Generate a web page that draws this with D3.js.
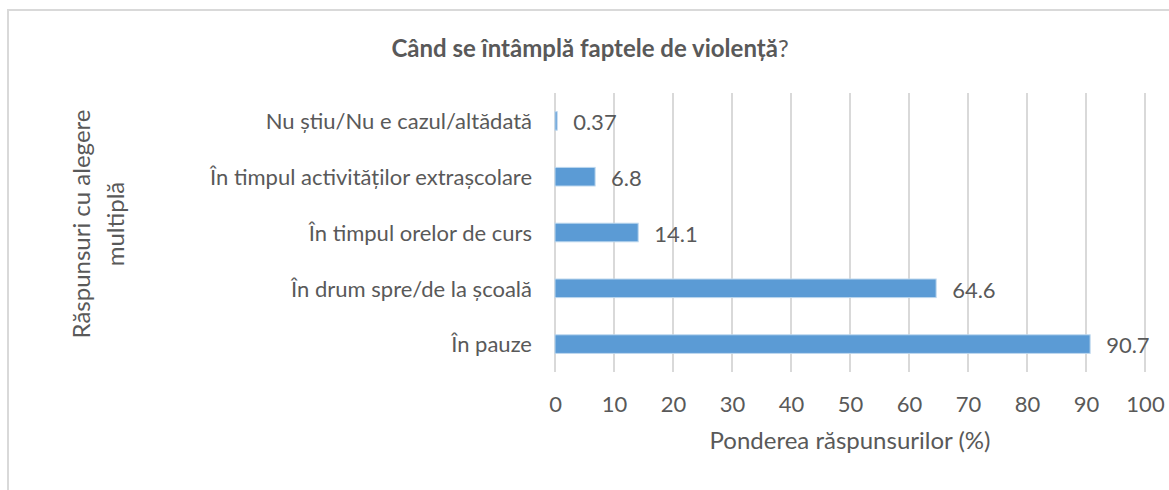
<!DOCTYPE html>
<html>
<head>
<meta charset="utf-8">
<script src="https://cdn.jsdelivr.net/npm/d3@7"></script>
<style>
  body { margin: 0; background: #fff; }
  text { font-family: Lato, "Open Sans", sans-serif; fill: #595959; }
</style>
</head>
<body>
<div id="chart"></div>
<script>
// date
var categories = ["Nu știu/Nu e cazul/altădată", "În timpul activităților extrașcolare", "În timpul orelor de curs", "În drum spre/de la școală", "În pauze"];
var values = [0.37, 6.8, 14.1, 64.6, 90.7];
var ticks = [0, 10, 20, 30, 40, 50, 60, 70, 80, 90, 100];
var title = "Când se întâmplă faptele de violență";
var xTitle = "Ponderea răspunsurilor (%)";
var yTitle = ["Răspunsuri cu alegere", "multiplă"];

var width = 1169, height = 490;
var pLeft = 555, pRight = 1145, pTop = 93, pBottom = 372;

var svg = d3.select("#chart")
  .append("svg")
  .attr("width", width)
  .attr("height", height);

// chenar
svg.append("rect")
  .attr("x", 8)
  .attr("y", 10)
  .attr("width", 1170)
  .attr("height", 490)
  .attr("fill", "white")
  .attr("stroke", "#D9D9D9")
  .attr("stroke-width", 2);

var x = d3.scaleLinear().domain([0, 100]).range([pLeft, pRight]);
var y = d3.scaleBand().domain(categories).range([pTop, pBottom])
  .paddingInner(2 / 3).paddingOuter(1 / 3);

// grila
svg.append("g")
  .selectAll("line")
  .data(ticks)
  .enter()
  .append("line")
  .attr("x1", function(d) { return x(d); })
  .attr("x2", function(d) { return x(d); })
  .attr("y1", pTop)
  .attr("y2", pBottom)
  .attr("stroke", "#D9D9D9")
  .attr("stroke-width", 2);

// axa x
var xAxis = svg.append("g")
  .attr("transform", "translate(0," + pBottom + ")")
  .call(d3.axisBottom(x).tickValues(ticks).tickSize(0).tickPadding(0));
xAxis.select(".domain").remove();
xAxis.selectAll("text")
  .attr("y", 39.5)
  .attr("dy", null)
  .attr("font-size", "22px")
  .attr("font-family", null)
  .attr("fill", null);

// axa y
var yAxis = svg.append("g")
  .attr("transform", "translate(532,0)")
  .call(d3.axisLeft(y).tickSize(0).tickPadding(0));
yAxis.select(".domain").remove();
yAxis.selectAll("text")
  .attr("dy", "0.38em")
  .attr("font-size", "22px")
  .attr("font-family", null)
  .attr("fill", null);

// bare
svg.append("g")
  .selectAll("rect")
  .data(values)
  .enter()
  .append("rect")
  .attr("x", x(0))
  .attr("y", function(d, i) { return y(categories[i]); })
  .attr("width", function(d) { return x(d) - x(0); })
  .attr("height", y.bandwidth())
  .attr("fill", "#5B9BD5")
  .attr("stroke", "#BDD7EE")
  .attr("stroke-width", 1);

// etichete
svg.append("g")
  .selectAll("text")
  .data(values)
  .enter()
  .append("text")
  .attr("x", function(d) { return x(d) + 16; })
  .attr("y", function(d, i) { return y(categories[i]) + y.bandwidth() / 2; })
  .attr("dy", "0.42em")
  .attr("font-size", "22px")
  .text(function(d) { return d; });

// titlu
var t = svg.append("text")
  .attr("x", 590)
  .attr("y", 57)
  .attr("text-anchor", "middle")
  .attr("font-size", "24px");
t.append("tspan").attr("font-weight", "bold").text(title);
t.append("tspan").text("?");

svg.append("text")
  .attr("x", (pLeft + pRight) / 2)
  .attr("y", 449)
  .attr("text-anchor", "middle")
  .attr("font-size", "24px")
  .text(xTitle);

svg.append("g")
  .attr("transform", "translate(90,224) rotate(-90)")
  .selectAll("text")
  .data(yTitle)
  .enter()
  .append("text")
  .attr("x", 0)
  .attr("y", function(d, i) { return i * 34; })
  .attr("text-anchor", "middle")
  .attr("font-size", "24px")
  .text(function(d) { return d; });
</script>
</body>
</html>
